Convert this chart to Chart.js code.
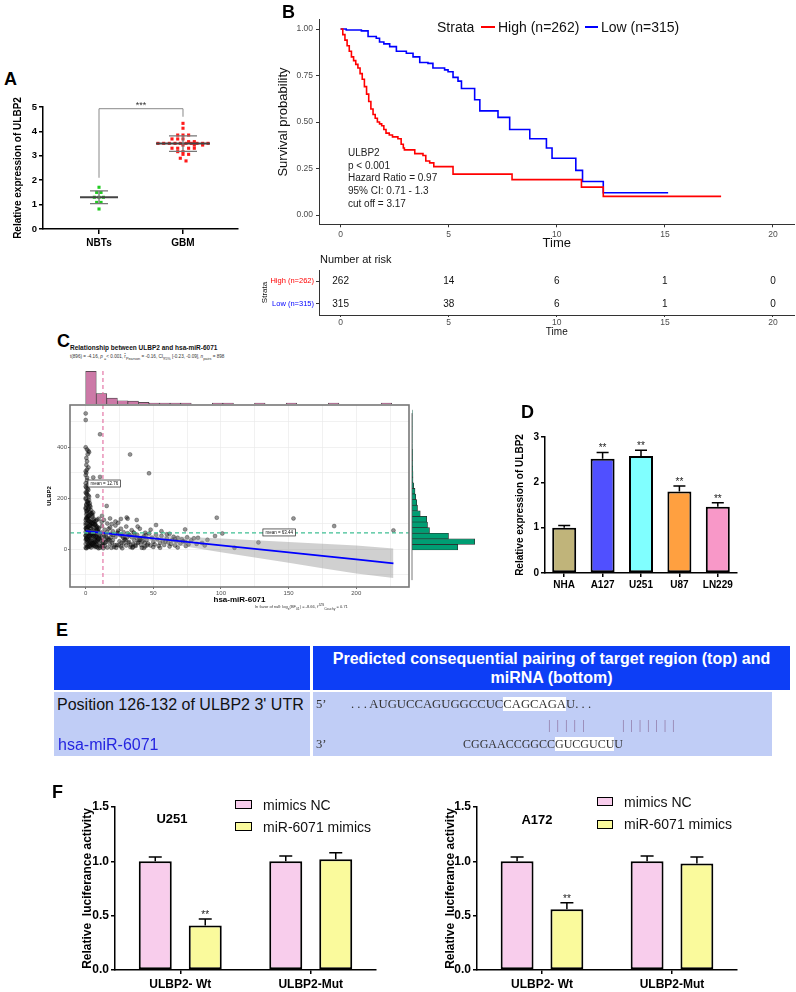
<!DOCTYPE html>
<html>
<head>
<meta charset="utf-8">
<script src="https://cdn.jsdelivr.net/npm/chart.js@4.4.1/dist/chart.umd.min.js"></script>
<style>
  body { margin:0; width:796px; height:992px; background:#fff; position:relative; overflow:hidden; font-family:"Liberation Sans", Arial, sans-serif; }
  canvas, .t { position:absolute; }
  .t { white-space:nowrap; line-height:1; }
  .lbl { font-weight:bold; font-size:18px; }
  .serif { font-family:"Liberation Serif", "Times New Roman", serif; color:#333; font-size:12.7px; }
  .hl { background:#fff; }
</style>
</head>
<body>
<canvas id="chartA" width="245" height="165" style="left:0;top:95px"></canvas>
<canvas id="chartKM" width="520" height="255" style="left:276px;top:0"></canvas>
<canvas id="chartRisk" width="536" height="88" style="left:260px;top:250px"></canvas>
<canvas id="chartTopHist" width="380" height="40" style="left:40px;top:365px"></canvas>
<canvas id="chartScatter" width="380" height="205" style="left:40px;top:400px"></canvas>
<canvas id="chartSideHist" width="80" height="205" style="left:405px;top:400px"></canvas>
<canvas id="chartD" width="250" height="175" style="left:495px;top:420px"></canvas>
<canvas id="chartF1" width="340" height="197" style="left:50px;top:795px"></canvas>
<canvas id="chartF2" width="330" height="197" style="left:420px;top:795px"></canvas>

<div class="t lbl" style="left:4px;top:70px">A</div>
<div class="t lbl" style="left:282px;top:3px">B</div>
<div class="t lbl" style="left:57px;top:332px">C</div>
<div class="t lbl" style="left:521px;top:403px">D</div>
<div class="t lbl" style="left:56px;top:621px">E</div>
<div class="t lbl" style="left:52px;top:783px">F</div>

<!-- B legend + annotation -->
<div class="t" style="left:437px;top:20px;font-size:14px;color:#111">Strata</div>
<div class="t" style="left:481px;top:26px;width:14px;height:2px;background:#ff0000"></div>
<div class="t" style="left:498px;top:20px;font-size:14px;color:#111">High (n=262)</div>
<div class="t" style="left:585px;top:26px;width:13px;height:2px;background:#0000ff"></div>
<div class="t" style="left:601px;top:20px;font-size:14px;color:#111">Low (n=315)</div>
<div class="t" style="left:348px;top:147px;font-size:10px;line-height:12.7px;color:#222">ULBP2<br>p &lt; 0.001<br>Hazard Ratio = 0.97<br>95% CI: 0.71 - 1.3<br>cut off = 3.17</div>
<div class="t" style="left:320px;top:254px;font-size:11px;color:#111">Number at risk</div>

<!-- C texts -->
<div class="t" style="left:70px;top:345px;font-size:6.5px;font-weight:bold;color:#111">Relationship between ULBP2 and hsa-miR-6071</div>
<div class="t" style="left:70px;top:355px;font-size:4.6px;color:#333">t(896) = -4.16, <i>p</i> <sub>=</sub>&lt; 0.001, r&#770;<sub>Pearson</sub> = -0.16, CI<sub>95%</sub> [-0.23, -0.09], <i>n</i><sub>pairs</sub> = 898</div>
<div class="t" style="left:255px;top:604px;font-size:4px;color:#333">In favor of null: log<sub>e</sub>(BF<sub>01</sub>) = -8.66, r&#770;<sup>JZS</sup><sub>Cauchy</sub> = 0.71</div>

<!-- E table -->
<div class="t" style="left:54px;top:646px;width:256px;height:44px;background:#0d3ef6"></div>
<div class="t" style="left:313px;top:646px;width:477px;height:44px;background:#0d3ef6"></div>
<div class="t" style="left:313px;top:649px;width:477px;text-align:center;color:#fff;font-weight:bold;font-size:16px;line-height:19px">Predicted consequential pairing of target region (top) and<br>miRNA (bottom)</div>
<div class="t" style="left:54px;top:692px;width:256px;height:64px;background:#c0cdf6"></div>
<div class="t" style="left:313px;top:692px;width:459px;height:64px;background:#c0cdf6"></div>
<div class="t" style="left:57px;top:697px;font-size:16px;color:#111">Position 126-132 of ULBP2 3' UTR</div>
<div class="t" style="left:58px;top:737px;font-size:16px;color:#2424e0">hsa-miR-6071</div>
<div class="t serif" style="left:316px;top:698px">5’</div>
<div class="t serif" style="left:351px;top:698px">. . . AUGUCCAGUGGCCUC<span class="hl">CAGCAGA</span>U. . .</div>
<div class="t serif" style="left:548px;top:719px;color:#8a6f9c;letter-spacing:6px">|||||</div>
<div class="t serif" style="left:622px;top:719px;color:#8a6f9c;letter-spacing:5.8px">|||||||</div>
<div class="t serif" style="left:316px;top:738px">3’</div>
<div class="t serif" style="left:463px;top:738px;font-size:12px">CGGAACCGGCC<span class="hl">GUCGUCU</span>U</div>

<!-- F legends -->
<div class="t" style="left:142px;top:812px;width:60px;text-align:center;font-size:13px;font-weight:bold">U251</div>
<div class="t" style="left:235px;top:800px;width:15px;height:7px;background:#f8cdec;border:1.5px solid #000"></div>
<div class="t" style="left:263px;top:798px;font-size:14px;color:#111">mimics NC</div>
<div class="t" style="left:235px;top:822px;width:15px;height:7px;background:#fafa9c;border:1.5px solid #000"></div>
<div class="t" style="left:263px;top:820px;font-size:14px;color:#111">miR-6071 mimics</div>
<div class="t" style="left:507px;top:813px;width:60px;text-align:center;font-size:13px;font-weight:bold">A172</div>
<div class="t" style="left:597px;top:797px;width:14px;height:7px;background:#f8cdec;border:1.5px solid #000"></div>
<div class="t" style="left:624px;top:795px;font-size:14px;color:#111">mimics NC</div>
<div class="t" style="left:597px;top:820px;width:14px;height:7px;background:#fafa9c;border:1.5px solid #000"></div>
<div class="t" style="left:624px;top:817px;font-size:14px;color:#111">miR-6071 mimics</div>

<script>
// ---- A: ULBP2 expression, NBTs vs GBM ----
const groupsA = ['NBTs', 'GBM'];
const nbtExpr = [1.71, 1.50, 1.50, 1.30, 1.30, 1.30, 1.09, 1.09, 0.82];
const nbtSpread = [0, -0.028, 0.024, -0.056, 0, 0.052, -0.028, 0.024, 0];
const gbmExpr = [4.33, 4.13, 3.85, 3.85, 3.85, 3.69, 3.69, 3.69, 3.58, 3.58,
  3.51, 3.51, 3.51, 3.51, 3.51, 3.51, 3.51, 3.51, 3.51, 3.51,
  3.44, 3.44, 3.44, 3.31, 3.31, 3.31, 3.31, 3.17, 3.17, 3.06, 3.06, 2.90, 2.79];
const gbmSpread = [0, 0, -0.063, 0, 0.067, -0.131, -0.063, 0, 0.067, 0.135,
  -0.298, -0.230, -0.163, -0.095, -0.032, 0.036, 0.099, 0.167, 0.234, 0.298,
  0, 0.135, 0.234, -0.131, -0.063, 0.067, 0.135, -0.063, 0, 0, 0.067, -0.032, 0.036];
const meanA = [1.30, 3.50];
const sdA = [0.26, 0.32];

// ---- B: Kaplan-Meier ----
const highTime = [0, 0.1, 0.2, 0.3, 0.4, 0.5, 0.6, 0.7, 0.8, 0.9, 1.0, 1.1, 1.2, 1.3, 1.4, 1.5, 1.6, 1.7, 1.8, 1.9, 2.0, 2.1, 2.25, 2.4, 2.65, 2.8, 2.9, 2.95, 3.43, 3.81, 3.94, 4.12, 4.31, 5.20, 7.93, 11.14, 12.15, 17.6];
const highSurv = [1, 0.97, 0.94, 0.91, 0.88, 0.85, 0.83, 0.81, 0.79, 0.76, 0.73, 0.69, 0.65, 0.61, 0.57, 0.54, 0.52, 0.50, 0.49, 0.48, 0.46, 0.44, 0.43, 0.42, 0.41, 0.38, 0.36, 0.35, 0.33, 0.32, 0.29, 0.28, 0.26, 0.22, 0.19, 0.15, 0.10, 0.10];
const lowTime = [0, 0.26, 0.96, 1.27, 1.65, 1.8, 2.0, 2.27, 2.58, 3.04, 3.35, 3.66, 4.04, 4.27, 4.81, 4.97, 5.2, 5.43, 5.59, 6.2, 6.44, 7.28, 7.82, 8.75, 9.52, 9.78, 10.88, 11.19, 12.15, 15.15];
const lowSurv = [1, 0.995, 0.99, 0.96, 0.95, 0.93, 0.92, 0.905, 0.88, 0.87, 0.85, 0.82, 0.815, 0.79, 0.78, 0.77, 0.74, 0.72, 0.68, 0.62, 0.56, 0.525, 0.46, 0.41, 0.36, 0.305, 0.24, 0.18, 0.12, 0.12];
const riskGroups = ['High (n=262)', 'Low (n=315)'];
const riskTimes = [0, 5, 10, 15, 20];
const riskHigh = [262, 14, 6, 1, 0];
const riskLow = [315, 38, 6, 1, 0];

// ---- C: hsa-miR-6071 vs ULBP2 ----
const mirVsUlbp2 = [
  [0,532],[0,506],[0,399],[1,390],[2,385],[2.5,380],[1.5,372],[0.5,357],[1,344],[0.5,330],[1,312],[0.5,299],[0,290],[1,270],[0,258],[1.5,251],
  [0.5,240],[2,232],[0,222],[1,214],[2.5,205],[0,196],[1.5,188],[3,180],[0.5,172],[2,165],[0,158],[1,150],[3,146],[4,140],[0.5,136],[2,131],
  [5,127],[1,123],[3,119],[0,114],[6,112],[2,108],[4,104],[1,100],[7,98],[0,95],[3,92],[5,89],[2,86],[8,84],[0,81],[4,79],[1,76],[6,74],
  [3,71],[9,69],[0,67],[5,65],[2,62],[7,60],[1,58],[4,56],[10,54],[0,52],[6,50],[3,48],[8,46],[1,44],[5,42],[2,40],[11,38],[0,36],[7,34],
  [4,32],[9,30],[1,28],[6,26],[3,24],[12,22],[0,20],[8,18],[5,16],[2,14],[10,12],[1,10],[7,8],[4,6],[0,5],[3,9],[6,13],[9,17],[2,21],[5,25],
  [8,29],[11,33],[1,37],[4,41],[7,45],[10,49],[0,53],[3,57],[6,61],[9,66],[2,70],[5,75],[8,80],[1,85],[4,90],[7,96],[0,102],[3,107],[6,118],
  [2,124],[5,133],[1,142],[4,152],[0,162],[3,170],[2,178],[1,186],[0,200],[2,210],[1,226],[0,245],[3,262],[1,280],[0,305],[2,320],
  [0.5,3],[1.5,7],[2.5,11],[3.5,15],[4.5,19],[5.5,23],[6.5,27],[7.5,31],[8.5,35],[9.5,39],[0.5,43],[1.5,47],[2.5,51],[3.5,55],[4.5,59],
  [5.5,63],[6.5,67],[7.5,71],[8.5,75],[9.5,79],[0.5,83],[1.5,87],[2.5,91],[3.5,95],[4.5,99],[5.5,103],[6.5,107],[7.5,111],[8.5,115],[9.5,119],
  [0.5,123],[1.5,127],[2.5,131],[3.5,135],[4.5,139],[5.5,143],[0.5,148],[1.5,155],[2.5,160],[3.5,166],[0.5,176],[1.5,182],[2.5,192],[0.5,218],[1.5,236],
  [9.5,3],[8.5,7],[7.5,11],[6.5,15],[5.5,19],[4.5,23],[3.5,27],[2.5,31],[1.5,35],[0.5,39],[9.5,43],[8.5,47],[7.5,51],[6.5,55],[5.5,59],
  [4.5,63],[3.5,67],[2.5,71],[1.5,75],[0.5,79],[9.5,83],[8.5,87],[7.5,91],[6.5,95],[5.5,99],[4.5,103],[3.5,107],[2.5,111],[1.5,115],[0.5,119],
  [5.6,281],[10.6,283],[10.6,450],[8.7,208],[15.5,169],[11.8,107],[13.5,114],[19.2,98],[24.1,103],[30.3,124],[31,119],[37.7,114],[38.4,88],[32.8,371],[46.8,297],
  [12,10],[13,24],[14,38],[15,52],[16,66],[17,80],[12,44],[13,60],[14,12],[15,28],[16,6],[17,40],[18,20],[19,58],[20,34],[21,8],[22,48],[23,16],
  [24,72],[25,30],[26,10],[27,52],[28,22],[29,40],[30,14],[31,62],[32,28],[33,8],[34,46],[35,20],[36,34],[37,12],[38,56],[39,26],[40,42],[41,16],
  [42,30],[43,50],[44,10],[45,36],[46,22],[47,61],[48,14],[49,44],[50,28],[51,18],[52,94],[53,38],[54,12],[55,24],[56,52],[57,32],[58,16],[60,42],
  [61,26],[62,60],[63,20],[64,36],[65,48],[66,14],[67,30],[68,44],[70,22],[71,38],[72,30],[73.5,77],[73.5,29],[75,46],[76,18],[78,34],[80,42],[83,44],[86,24],[90,36],
  [10.5,5],[12.5,15],[14.5,25],[16.5,35],[18.5,45],[20.5,55],[22.5,5],[24.5,15],[26.5,25],[28.5,35],[30.5,45],[32.5,55],[34.5,5],[36.5,15],[38.5,25],
  [40.5,35],[42.5,45],[44.5,55],[11.5,65],[13.5,55],[15.5,45],[17.5,35],[19.5,25],[21.5,15],[23.5,65],[25.5,55],[27.5,45],[29.5,35],[31.5,25],[33.5,15],
  [35.5,65],[37.5,45],[39.5,35],[41.5,5],[43.5,25],[45.5,15],[13,3],[19,5],[27,3],[35,8],[43,4],[50,8],[55,5],[62,10],[68,6],[59,30],[66,40],[74,12],[82,20],[88,14],
  [12,90],[14,76],[16,100],[18,84],[20,70],[22,92],[24,62],[26,80],[28,66],[30,88],[32,54],[34,74],[36,60],[40,80],[44,64],[48,76],[52,56],[56,70],[60,58],
  [12,130],[18,120],[22,108],[26,118],
  [95.6,51],[96.9,123],[101,61],[110,5],[127.7,26],[153.6,120],[183.7,90],[227.5,73]
];
const fitX = [0, 12.8, 25, 50, 75, 100, 125, 150, 175, 200, 227.5];
const fitY = [70, 63, 56, 42, 28, 14.5, 0.6, -13, -27, -41, -56];
const fitHalfCI = [8, 6, 7, 12, 19, 27, 34, 41, 48, 55, 58];
const mirMean = 12.76;
const ulbp2Mean = 63.44;
const mirBinMid = [3.9, 11.7, 19.5, 27.3, 35.1, 42.9, 50.7, 58.5, 66.3, 74.1, 81.9, 89.7, 97.5, 105.3, 113.1, 120.9, 128.7, 136.5, 144.3, 152.1, 159.9, 167.7, 175.5, 183.3, 191.1, 198.9, 206.7, 214.5, 222.3];
const mirBinCount = [520, 165, 95, 52, 47, 27, 8, 3, 2, 2, null, null, 1, 1, null, null, 1, null, null, 1, null, null, null, 1, null, null, null, null, 1];
const ulbpBinMid = [7, 29, 51, 73, 95, 117, 139, 161, 183, 205, 227, 249, 271, 293, 315, 337, 359, 381, 403, 425, 447, 469, 491, 513, 535];
const ulbpBinCount = [183, 251, 146, 70, 62, 59, 33, 22, 19, 15, 12, 7, 4, 4, 3, 2, 2, 2, 1, 1, 1, 1, 1, 1, 1];

// ---- D: cell lines ----
const cellLines = ['NHA', 'A127', 'U251', 'U87', 'LN229'];
const cellExpr = [1.0, 2.52, 2.58, 1.80, 1.46];
const cellErr = [0.05, 0.14, 0.13, 0.12, 0.09];
const cellSig = ['', '**', '**', '**', '**'];

// ---- F: luciferase ----
const constructs = ['ULBP2- Wt', 'ULBP2-Mut'];
const u251NC = [1.0, 1.0];
const u251NCErr = [0.04, 0.05];
const u251Mimic = [0.41, 1.02];
const u251MimicErr = [0.06, 0.06];
const a172NC = [1.0, 1.0];
const a172NCErr = [0.04, 0.05];
const a172Mimic = [0.56, 0.98];
const a172MimicErr = [0.06, 0.06];
const mimicSig = ['**', ''];

Chart.defaults.font.family = '"Liberation Sans", Arial, sans-serif';
Chart.defaults.color = '#000';
Chart.defaults.animation = false;
Chart.defaults.responsive = false;
Chart.defaults.devicePixelRatio = 1;
Chart.defaults.events = [];
Chart.defaults.plugins.legend.display = false;
Chart.defaults.plugins.tooltip.enabled = false;

// pin axis sizes so chart areas land where the figure has them
function fitTo(size) {
  return function (scale) {
    if (scale.isHorizontal()) scale.height = size; else scale.width = size;
    scale.paddingTop = 0; scale.paddingBottom = 0; scale.paddingLeft = 0; scale.paddingRight = 0;
  };
}
function ticksAt(values) {
  return function (scale) { scale.ticks = values.map(v => ({ value: v })); };
}

// ---------- A ----------
const summaryA = {
  id: 'summaryA',
  afterDatasetsDraw(chart) {
    const { ctx, scales: { x, y } } = chart;
    const meanHalf = [19, 27], sdHalf = [9, 14];
    ctx.save();
    meanA.forEach((m, i) => {
      const cx = x.getPixelForValue(i + 1);
      const pm = y.getPixelForValue(m), pu = y.getPixelForValue(m + sdA[i]), pl = y.getPixelForValue(m - sdA[i]);
      ctx.strokeStyle = '#444'; ctx.lineWidth = 2;
      ctx.beginPath(); ctx.moveTo(cx - meanHalf[i], pm); ctx.lineTo(cx + meanHalf[i], pm); ctx.stroke();
      ctx.strokeStyle = '#777'; ctx.lineWidth = 1.3;
      ctx.beginPath();
      ctx.moveTo(cx - sdHalf[i], pu); ctx.lineTo(cx + sdHalf[i], pu);
      ctx.moveTo(cx - sdHalf[i], pl); ctx.lineTo(cx + sdHalf[i], pl);
      ctx.moveTo(cx, pu); ctx.lineTo(cx, pl);
      ctx.stroke();
    });
    // significance bracket
    const x1 = x.getPixelForValue(1), x2 = x.getPixelForValue(2);
    const top = y.getPixelForValue(4.93);
    ctx.strokeStyle = '#888'; ctx.lineWidth = 1;
    ctx.beginPath();
    ctx.moveTo(x1, y.getPixelForValue(2.1)); ctx.lineTo(x1, top); ctx.lineTo(x2, top); ctx.lineTo(x2, y.getPixelForValue(4.6));
    ctx.stroke();
    ctx.fillStyle = '#333'; ctx.font = '9px "Liberation Sans"'; ctx.textAlign = 'center';
    ctx.fillText('***', (x1 + x2) / 2, top - 1);
    ctx.restore();
  }
};

new Chart(document.getElementById('chartA'), {
  type: 'scatter',
  data: {
    datasets: [
      { data: nbtExpr.map((v, i) => ({ x: 1 + nbtSpread[i], y: v })), backgroundColor: '#22cc22', borderWidth: 0, pointStyle: 'rect', pointRadius: 2.2 },
      { data: gbmExpr.map((v, i) => ({ x: 2 + gbmSpread[i], y: v })), backgroundColor: '#ff1a1a', borderWidth: 0, pointStyle: 'rect', pointRadius: 2.2 }
    ]
  },
  options: {
    layout: { padding: { top: 12, right: 7 } },
    scales: {
      x: {
        min: 0.333, max: 2.655, afterBuildTicks: ticksAt([1, 2]), afterFit: fitTo(31),
        ticks: { callback: v => groupsA[v - 1], font: { size: 10, weight: 'bold' }, padding: 3, autoSkip: false, maxRotation: 0 },
        grid: { drawOnChartArea: false, tickLength: 5, color: '#000', lineWidth: 1.5 },
        border: { color: '#000', width: 1.5 }
      },
      y: {
        min: 0, max: 5, afterBuildTicks: ticksAt([0, 1, 2, 3, 4, 5]), afterFit: fitTo(43),
        ticks: { font: { size: 9.5, weight: 'bold' }, padding: 2 },
        grid: { drawOnChartArea: false, tickLength: 4, color: '#000', lineWidth: 1.5 },
        border: { color: '#000', width: 1.5 },
        title: { display: true, text: 'Relative expression of ULBP2', font: { size: 10, weight: 'bold' }, padding: { top: 12, bottom: 0 } }
      }
    }
  },
  plugins: [summaryA]
});

// ---------- B ----------
const kmAxisGrey = '#4d4d4d';
new Chart(document.getElementById('chartKM'), {
  type: 'line',
  data: {
    datasets: [
      { data: highTime.map((t, i) => ({ x: t, y: highSurv[i] })), borderColor: '#ff0000', borderWidth: 1.6, stepped: 'before', pointRadius: 0, fill: false },
      { data: lowTime.map((t, i) => ({ x: t, y: lowSurv[i] })), borderColor: '#0000ff', borderWidth: 1.6, stepped: 'before', pointRadius: 0, fill: false }
    ]
  },
  options: {
    layout: { padding: { top: 19.7, right: 1.4 } },
    scales: {
      x: {
        type: 'linear', min: -1, max: 21, afterBuildTicks: ticksAt([0, 5, 10, 15, 20]), afterFit: fitTo(30.7),
        ticks: { font: { size: 8.5 }, color: kmAxisGrey, padding: 2 },
        grid: { drawOnChartArea: false, tickLength: 3, color: '#333' },
        border: { color: '#333', width: 1 },
        title: { display: true, text: 'Time', font: { size: 13 }, color: '#111', padding: { top: 0, bottom: 4 } }
      },
      y: {
        min: -0.05, max: 1.05, afterBuildTicks: ticksAt([0, 0.25, 0.5, 0.75, 1]), afterFit: fitTo(43),
        ticks: { font: { size: 8.5 }, color: kmAxisGrey, padding: 3, callback: v => v.toFixed(2) },
        grid: { drawOnChartArea: false, tickLength: 3, color: '#333' },
        border: { color: '#333', width: 1 },
        title: { display: true, text: 'Survival probability', font: { size: 13 }, color: '#111', padding: { top: 0, bottom: 0 } }
      }
    }
  }
});

const riskNumbers = {
  id: 'riskNumbers',
  afterDatasetsDraw(chart) {
    const ctx = chart.ctx;
    ctx.save();
    ctx.font = '10px "Liberation Sans"'; ctx.fillStyle = '#111'; ctx.textAlign = 'center'; ctx.textBaseline = 'middle';
    chart.data.datasets.forEach((ds, di) => {
      chart.getDatasetMeta(di).data.forEach((pt, i) => ctx.fillText(String(ds.data[i].n), pt.x, pt.y));
    });
    ctx.restore();
  }
};
new Chart(document.getElementById('chartRisk'), {
  type: 'scatter',
  data: {
    datasets: [
      { data: riskTimes.map((t, i) => ({ x: t, y: riskGroups[0], n: riskHigh[i] })), pointRadius: 0 },
      { data: riskTimes.map((t, i) => ({ x: t, y: riskGroups[1], n: riskLow[i] })), pointRadius: 0 }
    ]
  },
  options: {
    layout: { padding: { top: 20, right: 1.4 } },
    scales: {
      x: {
        type: 'linear', min: -1, max: 21, afterBuildTicks: ticksAt([0, 5, 10, 15, 20]), afterFit: fitTo(23),
        ticks: { font: { size: 8.5 }, color: kmAxisGrey, padding: 1 },
        grid: { drawOnChartArea: false, tickLength: 2, color: '#333' },
        border: { color: '#333', width: 1 },
        title: { display: true, text: 'Time', font: { size: 10 }, color: '#111', padding: { top: 0, bottom: 0 } }
      },
      y: {
        type: 'category', labels: riskGroups, offset: true, afterFit: fitTo(59),
        ticks: { font: { size: 7.5 }, padding: 2, color: c => (c.index === 0 ? '#ff0000' : '#0000ff') },
        grid: { drawOnChartArea: false, tickLength: 3, color: '#333', offset: false },
        border: { color: '#333', width: 1 },
        title: { display: true, text: 'Strata', font: { size: 8 }, color: '#111', padding: { top: 0, bottom: 0 } }
      }
    }
  },
  plugins: [riskNumbers]
});

// ---------- C ----------
const meanMarks = {
  id: 'meanMarks',
  afterDatasetsDraw(chart, args, o) {
    const { ctx, chartArea: a, scales } = chart;
    ctx.save();
    ctx.lineWidth = 1.1;
    ctx.setLineDash([4, 3]);
    if (o.xMean != null) {
      const px = scales.x.getPixelForValue(o.xMean);
      ctx.strokeStyle = '#e26a9e';
      ctx.beginPath(); ctx.moveTo(px, a.top); ctx.lineTo(px, a.bottom); ctx.stroke();
    }
    if (o.yMean != null) {
      const py = scales.y.getPixelForValue(o.yMean);
      ctx.strokeStyle = '#3fbf94';
      ctx.beginPath(); ctx.moveTo(a.left, py); ctx.lineTo(a.right, py); ctx.stroke();
    }
    ctx.setLineDash([]);
    ctx.font = '4.5px "Liberation Sans"'; ctx.textBaseline = 'middle';
    (o.labels || []).forEach(l => {
      const px = scales.x.getPixelForValue(l.x), py = scales.y.getPixelForValue(l.y);
      const w = ctx.measureText(l.text).width + 5;
      ctx.fillStyle = '#fff'; ctx.fillRect(px, py - 3.5, w, 7);
      ctx.strokeStyle = '#222'; ctx.lineWidth = 0.7; ctx.strokeRect(px, py - 3.5, w, 7);
      ctx.fillStyle = '#111'; ctx.fillText(l.text, px + 2.5, py + 0.3);
    });
    if (o.frame) {
      ctx.strokeStyle = '#777'; ctx.lineWidth = 1.6;
      ctx.strokeRect(a.left, a.top, a.right - a.left, a.bottom - a.top);
    }
    ctx.restore();
  }
};
const cGrey = '#4d4d4d';
new Chart(document.getElementById('chartScatter'), {
  type: 'scatter',
  data: {
    datasets: [
      { type: 'line', data: fitX.map((x, i) => ({ x, y: fitY[i] })), borderColor: '#0000ff', borderWidth: 1.8, pointRadius: 0, order: 0 },
      { type: 'line', data: fitX.map((x, i) => ({ x, y: fitY[i] + fitHalfCI[i] })), borderWidth: 0, pointRadius: 0, fill: false, order: 1 },
      { type: 'line', data: fitX.map((x, i) => ({ x, y: fitY[i] - fitHalfCI[i] })), borderWidth: 0, pointRadius: 0, fill: '-1', backgroundColor: 'rgba(150,150,150,0.45)', order: 1 },
      { data: mirVsUlbp2.map(p => ({ x: p[0], y: p[1] })), backgroundColor: 'rgba(20,20,20,0.45)', borderColor: 'rgba(0,0,0,0.55)', borderWidth: 0.5, pointRadius: 2, order: 2 }
    ]
  },
  options: {
    layout: { padding: { top: 5, right: 11 } },
    scales: {
      x: {
        min: -11.6, max: 239, afterBuildTicks: ticksAt([0, 25, 50, 75, 100, 125, 150, 175, 200, 225]), afterFit: fitTo(18),
        ticks: { font: { size: 6 }, color: cGrey, padding: 1, callback: v => (v % 50 === 0 ? v : '') },
        grid: { color: '#ebebeb', lineWidth: 0.7, tickLength: 2, tickColor: c => (c.tick && c.tick.value % 50 === 0 ? '#333' : 'rgba(0,0,0,0)') },
        border: { display: false },
        title: { display: true, text: 'hsa-miR-6071', font: { size: 8, weight: 'bold' }, padding: { top: 0, bottom: 0 } }
      },
      y: {
        min: -149, max: 565, afterBuildTicks: ticksAt([-100, 0, 100, 200, 300, 400, 500]), afterFit: fitTo(30),
        ticks: { font: { size: 6 }, color: cGrey, padding: 1, callback: v => (v % 200 === 0 ? v : '') },
        grid: { color: '#ebebeb', lineWidth: 0.7, tickLength: 2, tickColor: c => (c.tick && c.tick.value % 200 === 0 ? '#333' : 'rgba(0,0,0,0)') },
        border: { display: false },
        title: { display: true, text: 'ULBP2', font: { size: 6, weight: 'bold' }, padding: { top: 6, bottom: 0 } }
      }
    },
    plugins: {
      meanMarks: {
        xMean: mirMean, yMean: ulbp2Mean, frame: true,
        labels: [{ x: 1.7, y: 257, text: 'mean = ' + mirMean }, { x: 131, y: 65, text: 'mean = ' + ulbp2Mean }]
      }
    }
  },
  plugins: [meanMarks]
});

new Chart(document.getElementById('chartTopHist'), {
  type: 'bar',
  data: {
    datasets: [{
      data: mirBinMid.map((m, i) => ({ x: m, y: mirBinCount[i] })),
      backgroundColor: '#cc79a7', borderColor: '#3a3a3a', borderWidth: 0.7,
      barPercentage: 1, categoryPercentage: 1, minBarLength: 1
    }]
  },
  options: {
    layout: { padding: { left: 30, right: 11, top: 6, bottom: 1 } },
    scales: {
      x: { type: 'linear', min: -11.6, max: 239, offset: false, display: false },
      y: { min: 0, max: 525, display: false }
    },
    plugins: { meanMarks: { xMean: mirMean } }
  },
  plugins: [meanMarks]
});

const histBase = {
  id: 'histBase',
  afterDatasetsDraw(chart) {
    const { ctx, scales: { x, y } } = chart;
    const px = x.getPixelForValue(0);
    ctx.save(); ctx.strokeStyle = '#555'; ctx.lineWidth = 0.8;
    ctx.beginPath(); ctx.moveTo(px, y.getPixelForValue(533)); ctx.lineTo(px, y.getPixelForValue(-122)); ctx.stroke();
    ctx.restore();
  }
};
new Chart(document.getElementById('chartSideHist'), {
  type: 'bar',
  data: {
    datasets: [{
      data: ulbpBinMid.map((m, i) => ({ y: m, x: ulbpBinCount[i] })),
      backgroundColor: '#009e73', borderColor: '#2b2b2b', borderWidth: 0.7,
      barPercentage: 1, categoryPercentage: 1
    }]
  },
  options: {
    indexAxis: 'y',
    layout: { padding: { left: 7, right: 10, top: 5, bottom: 18 } },
    scales: {
      y: { type: 'linear', min: -149, max: 565, offset: false, display: false },
      x: { min: 0, max: 252, display: false }
    }
  },
  plugins: [histBase]
});

// ---------- D and F (GraphPad style bars) ----------
const errorBars = {
  id: 'errorBars',
  afterDatasetsDraw(chart, args, o) {
    const { ctx, scales: { y } } = chart;
    ctx.save();
    ctx.strokeStyle = '#000'; ctx.fillStyle = '#222'; ctx.lineWidth = 1.5;
    ctx.font = '10px "Liberation Sans"'; ctx.textAlign = 'center';
    o.errors.forEach((errs, di) => {
      const ds = chart.data.datasets[di];
      chart.getDatasetMeta(di).data.forEach((bar, i) => {
        const top = y.getPixelForValue(ds.data[i] + errs[i]);
        ctx.beginPath();
        ctx.moveTo(bar.x, bar.y); ctx.lineTo(bar.x, top);
        ctx.moveTo(bar.x - o.cap, top); ctx.lineTo(bar.x + o.cap, top);
        ctx.stroke();
        const s = o.stars[di] && o.stars[di][i];
        if (s) ctx.fillText(s, bar.x, top - 1);
      });
    });
    ctx.restore();
  }
};
function prismScales(o) {
  return {
    x: {
      afterFit: fitTo(o.xh),
      ticks: { font: { size: o.xfs, weight: 'bold' }, padding: o.xpad, autoSkip: false, maxRotation: 0 },
      grid: { drawOnChartArea: false, offset: false, tickLength: 4, color: '#000', lineWidth: 1.5 },
      border: { color: '#000', width: 1.5 }
    },
    y: {
      min: 0, max: o.ymax, afterBuildTicks: ticksAt(o.yticks), afterFit: fitTo(o.yw),
      ticks: { font: { size: o.yfs, weight: 'bold' }, padding: 2, callback: o.yfmt },
      grid: { drawOnChartArea: false, tickLength: 4, color: '#000', lineWidth: 1.5 },
      border: { color: '#000', width: 1.5 },
      title: { display: true, text: o.ytitle, font: { size: o.ytfs, weight: 'bold' }, padding: { top: o.ytpad, bottom: 0 } }
    }
  };
}

new Chart(document.getElementById('chartD'), {
  type: 'bar',
  data: {
    labels: cellLines,
    datasets: [{
      data: cellExpr,
      backgroundColor: ['#c0b47a', '#5050ff', '#80ffff', '#ffa040', '#f898c8'],
      borderColor: '#000', borderWidth: 2, borderSkipped: false,
      barPercentage: 0.625, categoryPercentage: 1
    }]
  },
  options: {
    layout: { padding: { top: 17, right: 8 } },
    scales: prismScales({ xh: 22, xfs: 10, xpad: 2, ymax: 3, yticks: [0, 1, 2, 3], yw: 50, yfs: 10, yfmt: v => v, ytitle: 'Relative expression of ULBP2', ytfs: 10, ytpad: 19 }),
    plugins: { errorBars: { errors: [cellErr], stars: [cellSig], cap: 6 } }
  },
  plugins: [errorBars]
});

function luciferase(id, nc, ncErr, mimic, mimicErr, yw, ytpad, padRight) {
  new Chart(document.getElementById(id), {
    type: 'bar',
    data: {
      labels: constructs,
      datasets: [
        { data: nc, backgroundColor: '#f8cdec', borderColor: '#000', borderWidth: 2, borderSkipped: false, barPercentage: 0.66, categoryPercentage: 0.766 },
        { data: mimic, backgroundColor: '#fafa9c', borderColor: '#000', borderWidth: 2, borderSkipped: false, barPercentage: 0.66, categoryPercentage: 0.766 }
      ]
    },
    options: {
      layout: { padding: { top: 12, right: padRight } },
      scales: prismScales({ xh: 22, xfs: 12, xpad: 3, ymax: 1.5, yticks: [0, 0.5, 1, 1.5], yw, yfs: 12, yfmt: v => v.toFixed(1), ytitle: 'Relative  luciferance activity', ytfs: 12, ytpad }),
      plugins: { errorBars: { errors: [ncErr, mimicErr], stars: [[], mimicSig], cap: 6.5 } }
    },
    plugins: [errorBars]
  });
}
luciferase('chartF1', u251NC, u251NCErr, u251Mimic, u251MimicErr, 65, 30, 14);
luciferase('chartF2', a172NC, a172NCErr, a172Mimic, a172MimicErr, 57, 23, 13);
</script>
</body>
</html>
